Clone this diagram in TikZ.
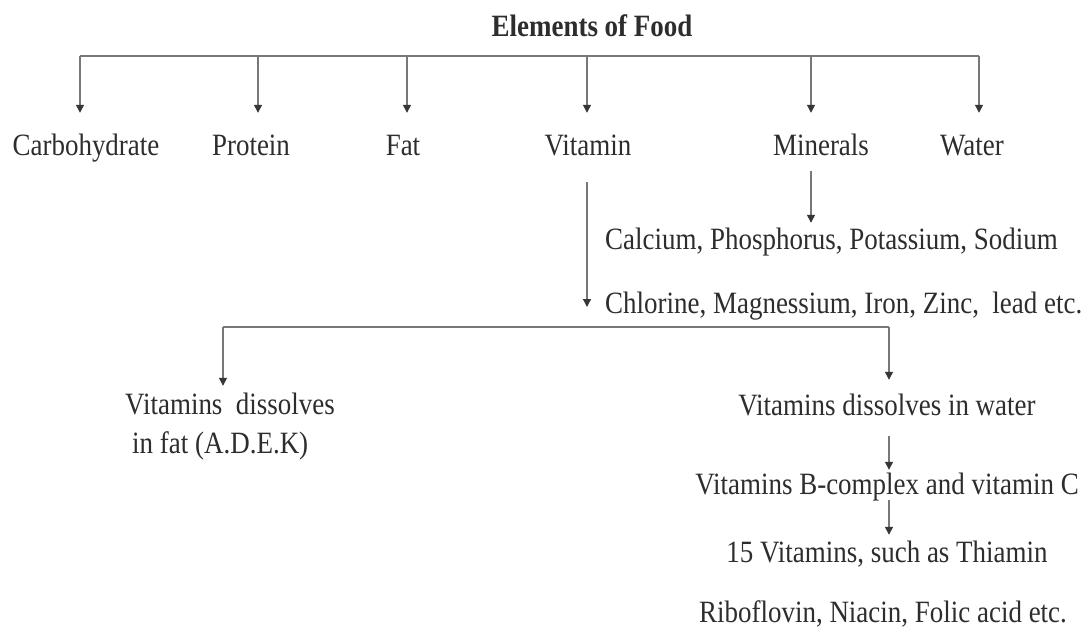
\documentclass[tikz,border=0pt]{standalone}
\usepackage{fontspec}
\setmainfont{Liberation Serif}[FakeStretch=0.87]
\usetikzlibrary{arrows.meta}
\definecolor{txt}{RGB}{45,45,45}
\definecolor{ln}{RGB}{120,120,120}
\definecolor{tipc}{RGB}{55,55,55}
\begin{document}
\begin{tikzpicture}[x=1pt,y=-1pt,
  lbl/.style={font=\fontsize{31}{36}\selectfont, text=txt, inner sep=0pt,
              text height=21pt, text depth=7pt, anchor=base},
  conn/.style={draw=ln, line width=1.3pt},
  arr/.style={conn, -{Triangle[length=8pt,width=8pt,fill=tipc,color=tipc]}}]
\useasboundingbox[fill=white] (0,0) rectangle (1087,631);

% title
\node[lbl, font=\bfseries\fontsize{31}{36}\selectfont] (title) at (592,37) {Elements of Food};

% first level
\node[lbl] (carb)     at (86,156)  {Carbohydrate};
\node[lbl] (protein)  at (251,156) {Protein};
\node[lbl] (fat)      at (403,156) {Fat};
\node[lbl] (vitamin)  at (588,156) {Vitamin};
\node[lbl] (minerals) at (821,156) {Minerals};
\node[lbl] (water)    at (972,156) {Water};

% bus coordinates
\coordinate (d1) at (80,56);
\coordinate (d2) at (258,56);
\coordinate (d3) at (407,56);
\coordinate (d4) at (587,56);
\coordinate (d5) at (811,56);
\coordinate (d6) at (979,56);
\draw[conn] (d1) -- (d6);
\foreach \d/\n in {d1/carb,d2/protein,d3/fat,d4/vitamin,d5/minerals,d6/water}
  \draw[arr, shorten >=22pt] (\d) -- (\d |- \n.north);

% minerals list
\node[lbl, anchor=base west] (calcium)  at (605,250) {Calcium, Phosphorus, Potassium, Sodium};
\node[lbl, anchor=base west] (chlorine) at (605,313) {Chlorine, Magnessium, Iron, Zinc,\ \ lead etc.};
\draw[arr, shorten <=8pt, shorten >=6pt] (minerals.south -| d5) -- (calcium.north -| d5);
\draw[arr, shorten <=19pt, shorten >=6pt] (vitamin.south -| d4) -- (chlorine.base -| d4);

% vitamin split
\coordinate (hL) at (223,327);
\coordinate (hR) at (889,327);
\node[lbl, anchor=base west] (fatA) at (125,414) {Vitamins\ \ dissolves};
\node[lbl, anchor=base west] (fatB) at (132,453) {in fat (A.D.E.K)};
\node[lbl] (watervit) at (887,415) {Vitamins dissolves in water};
\node[lbl] (bcomplex) at (887,494) {Vitamins B-complex and vitamin C};
\node[lbl] (fifteen)  at (887,562) {15 Vitamins, such as Thiamin};
\node[lbl] (ribo)     at (883,622) {Riboflovin, Niacin, Folic acid etc.};
\draw[conn] (hL) -- (hR);
\draw[arr, shorten >=7pt] (hL) -- (hL |- fatA.north);
\draw[arr, shorten >=14pt] (hR) -- (hR |- watervit.north);
\draw[arr, shorten <=14pt, shorten >=3pt] (watervit.south -| hR) -- (bcomplex.north -| hR);
\draw[arr, shorten <=-1pt, shorten >=6pt] (bcomplex.south -| hR) -- (fifteen.north -| hR);
\end{tikzpicture}
\end{document}
